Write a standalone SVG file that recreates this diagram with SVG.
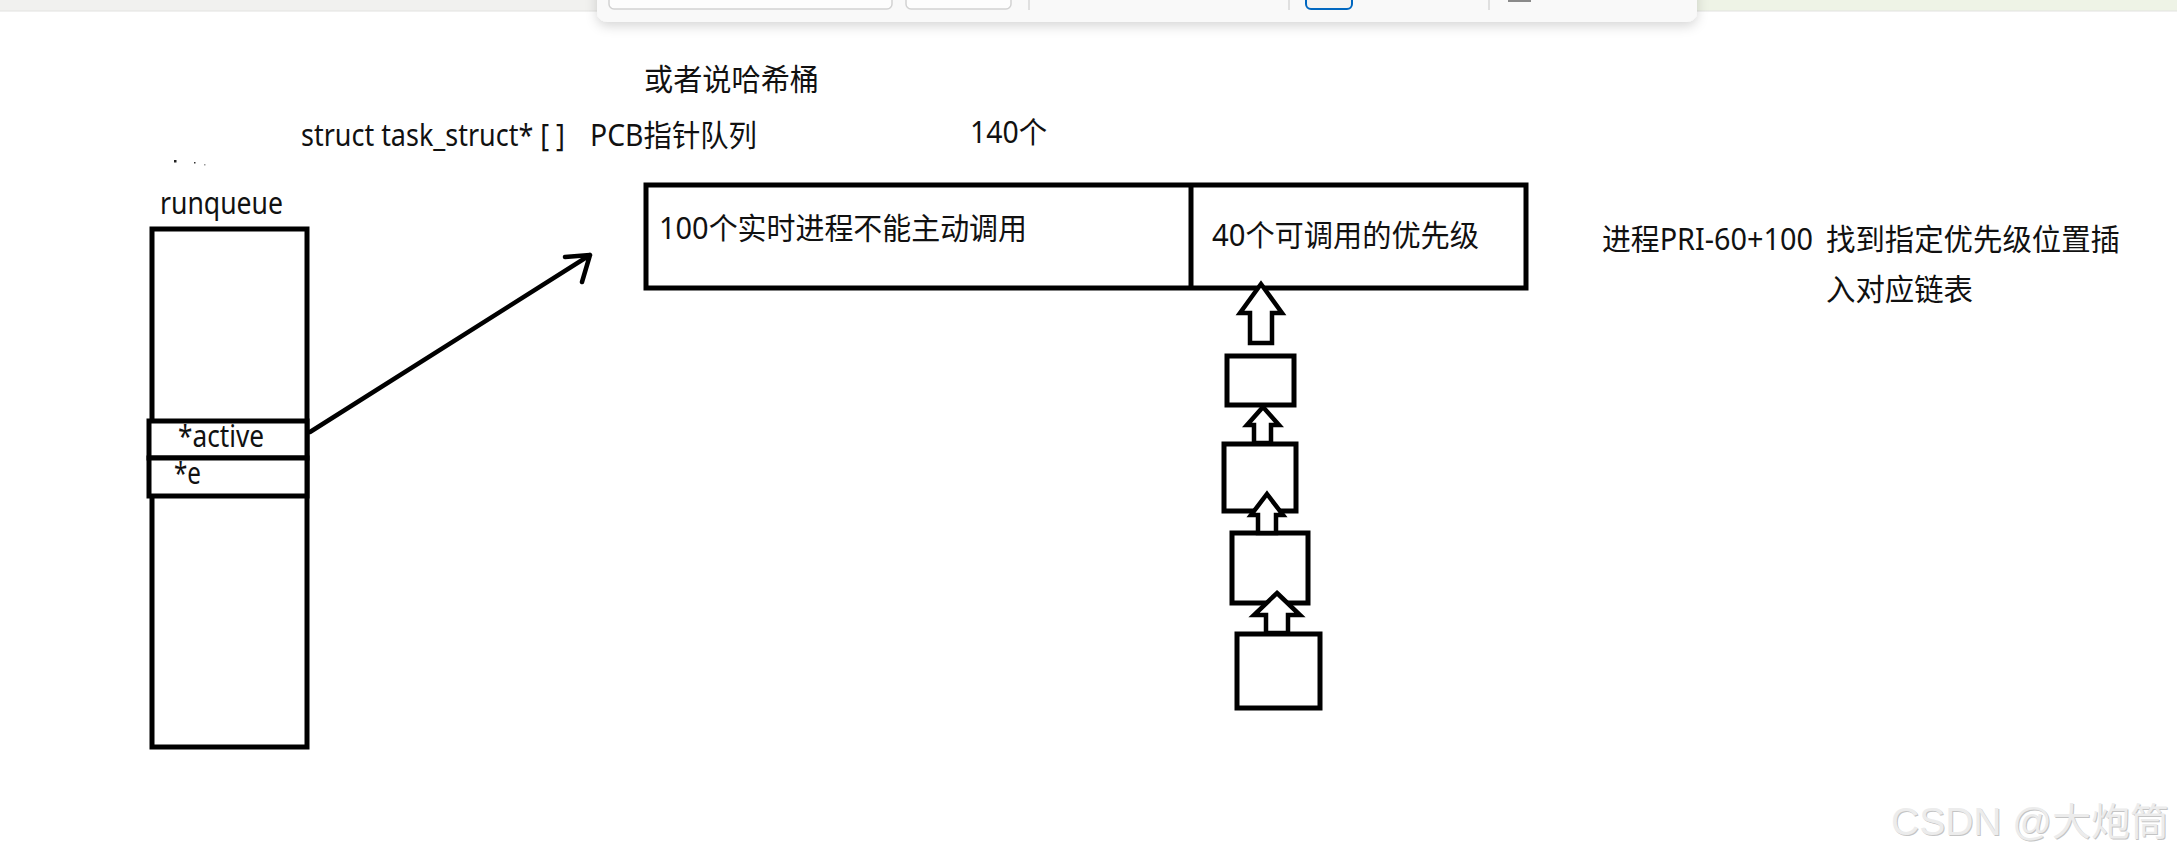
<svg xmlns="http://www.w3.org/2000/svg" width="2177" height="858" viewBox="0 0 2177 858">
<defs>
<style>
.t{font-family:"Noto Sans","Noto Sans CJK SC",sans-serif;font-size:30px;fill:#111}
.box{fill:#fff;stroke:#000;stroke-width:5}
.ln{fill:none;stroke:#000;stroke-width:4.5;stroke-linecap:round;stroke-linejoin:round}
.blk{fill:#fff;stroke:#000;stroke-width:4.5;stroke-linejoin:miter}
.btn{fill:#fdfdfd;stroke:#d2d2d2;stroke-width:1.5}
.sep{stroke:#e0e0e0;stroke-width:2}
.wm{font-family:"Liberation Sans","Noto Sans CJK SC",sans-serif;font-size:38px}
</style>
<filter id="shadow" x="-5%" y="-50%" width="110%" height="250%">
<feDropShadow dx="0" dy="4" stdDeviation="6" flood-color="#000" flood-opacity="0.16"/>
</filter>
</defs>
<rect width="2177" height="858" fill="#fff"/>
<g id="top-strip">
<rect x="0" y="0" width="2177" height="11" fill="#f1f1ef"/>
<rect x="1690" y="0" width="487" height="11" fill="#eef3e6"/>
<line x1="0" y1="11" x2="2177" y2="11" stroke="#e2e2e0" stroke-width="1"/>
</g>
<g id="toolbar">
<rect x="597" y="-20" width="1100" height="42" rx="10" fill="#f9f9f9" filter="url(#shadow)"/>
<rect x="609" y="-10" width="283" height="19" rx="5" class="btn"/>
<rect x="906" y="-10" width="105" height="19" rx="5" class="btn"/>
<line x1="1029" y1="0" x2="1029" y2="10" class="sep"/>
<line x1="1289" y1="0" x2="1289" y2="10" class="sep"/>
<rect x="1306" y="-10" width="46" height="19" rx="5" fill="#f3f3f3" stroke="#0067c0" stroke-width="2"/>
<line x1="1489" y1="0" x2="1489" y2="10" class="sep"/>
<rect x="1508" y="0" width="23" height="2" fill="#8a8a8a"/>
</g>
<g id="artifact-dots">
<rect x="174" y="160" width="2.5" height="2.5" fill="#222"/>
<rect x="194" y="162" width="1.5" height="1.5" fill="#333"/>
<rect x="204" y="164" width="1.5" height="1.5" fill="#999"/>
</g>
<g id="labels">
<text class="t" x="644" y="90" textLength="175" lengthAdjust="spacingAndGlyphs">或者说哈希桶</text>
<text class="t" x="301" y="146" textLength="264" lengthAdjust="spacingAndGlyphs">struct task_struct* [ ]</text>
<text class="t" x="590" y="146" textLength="167" lengthAdjust="spacingAndGlyphs">PCB指针队列</text>
<text class="t" x="970" y="143" textLength="77" lengthAdjust="spacingAndGlyphs">140个</text>
<text class="t" x="1602" y="250" textLength="211" lengthAdjust="spacingAndGlyphs">进程PRI-60+100</text>
<text class="t" x="1826" y="250" textLength="294" lengthAdjust="spacingAndGlyphs">找到指定优先级位置插</text>
<text class="t" x="1826" y="300" textLength="147" lengthAdjust="spacingAndGlyphs">入对应链表</text>
</g>
<g id="runqueue">
<text class="t" x="160" y="214" textLength="123" lengthAdjust="spacingAndGlyphs">runqueue</text>
<rect x="152" y="229" width="155" height="518" class="box"/>
<g id="field-active">
<rect x="149" y="421" width="158" height="37" class="box"/>
<text class="t" x="178" y="447" textLength="86" lengthAdjust="spacingAndGlyphs">*active</text>
</g>
<g id="field-e">
<rect x="149" y="458" width="158" height="38" class="box"/>
<text class="t" x="174" y="484" textLength="27" lengthAdjust="spacingAndGlyphs">*e</text>
</g>
</g>
<g id="pcb-array">
<rect x="646" y="185" width="880" height="103" class="box"/>
<line x1="1191" y1="185" x2="1191" y2="288" stroke="#000" stroke-width="5"/>
<text class="t" x="659" y="239" textLength="368" lengthAdjust="spacingAndGlyphs">100个实时进程不能主动调用</text>
<text class="t" x="1212" y="246" textLength="267" lengthAdjust="spacingAndGlyphs">40个可调用的优先级</text>
</g>
<g id="chain-node-1"><rect x="1227" y="356" width="67" height="49" class="box"/></g>
<g id="chain-node-2"><rect x="1224" y="444" width="72" height="67" class="box"/></g>
<g id="chain-node-3"><rect x="1232" y="533" width="76" height="70" class="box"/></g>
<g id="chain-node-4"><rect x="1237" y="634" width="83" height="74" class="box"/></g>
<g id="connectors">
<path class="ln" d="M310,432 L590,255 M565,257 L590,255 L582,282"/>
<polygon class="blk" points="1261,284 1282,313 1272,313 1272,343 1250,343 1250,313 1240,313"/>
<polygon class="blk" points="1263,407 1279,425 1271,425 1271,443 1254,443 1254,425 1247,425"/>
<polygon class="blk" points="1267,494 1283,515 1276,515 1276,533 1258,533 1258,515 1251,515"/>
<polygon class="blk" points="1277,593 1300,615 1288,615 1288,633 1266,633 1266,615 1254,615"/>
</g>
<g id="watermark">
<text class="wm" x="1892" y="836" fill="#c4c4c4" textLength="278" lengthAdjust="spacingAndGlyphs">CSDN @大炮筒</text>
<text class="wm" x="1891" y="835" fill="#ececec" textLength="278" lengthAdjust="spacingAndGlyphs">CSDN @大炮筒</text>
</g>
</svg>
